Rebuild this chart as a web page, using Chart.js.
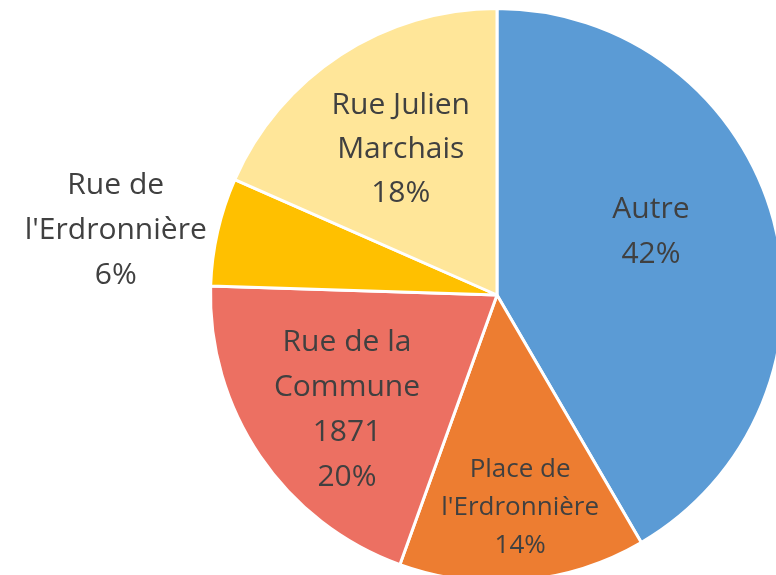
<!DOCTYPE html>
<html>
<head>
<meta charset="utf-8">
<script src="https://cdn.jsdelivr.net/npm/chart.js@4"></script>
<style>
  html, body { margin: 0; padding: 0; overflow: hidden; background: #fff; width: 776px; height: 575px; }
  #pie { position: absolute; left: 0; top: 0; }
</style>
</head>
<body>
<canvas id="pie" width="785" height="583"></canvas>
<script>
var categories = [['Autre'], ['Place de', "l'Erdronnière"], ['Rue de la', 'Commune', '1871'], ['Rue de', "l'Erdronnière"], ['Rue Julien', 'Marchais']];
var shares = [41.6, 13.9, 20.0, 6.1, 18.4];
var colours = ['#5B9BD5', '#ED7D31', '#EC7062', '#FFC000', '#FFE699'];

// label placement: nudge from mid-angle (deg) and fraction of radius
var labelNudge = [-7, -1, -3.3, -3.1, -0.3];
var labelDist = [0.58, 0.745, 0.66, 1.35, 0.61];
var labelSize = [30, 26, 30, 30, 30];
var labelLead = [45, 38, 45, 45, 44];

var sliceLabels = {
    id: 'sliceLabels',
    afterDatasetsDraw: function (chart) {
        var ctx = chart.ctx;
        var arcs = chart.getDatasetMeta(0).data;
        ctx.save();
        ctx.fillStyle = '#404040';
        ctx.textAlign = 'center';
        ctx.textBaseline = 'middle';
        arcs.forEach(function (arc, i) {
            var mid = (arc.startAngle + arc.endAngle) / 2 + labelNudge[i] * Math.PI / 180;
            var r = arc.outerRadius * labelDist[i];
            var x = arc.x + Math.cos(mid) * r;
            var y = arc.y + Math.sin(mid) * r;
            var lines = categories[i].concat([Math.round(shares[i]) + '%']);
            ctx.font = labelSize[i] + 'px "Open Sans", sans-serif';
            var top = y - (lines.length - 1) * labelLead[i] / 2;
            lines.forEach(function (t, k) {
                ctx.fillText(t, x, top + k * labelLead[i]);
            });
        });
        ctx.restore();
    }
};

new Chart(document.getElementById('pie'), {
    type: 'pie',
    data: {
        labels: categories.map(function (c) { return c.join(' '); }),
        datasets: [{
            data: shares,
            backgroundColor: colours,
            borderColor: '#ffffff',
            borderWidth: 3
        }]
    },
    options: {
        responsive: false,
        animation: false,
        layout: { padding: { left: 209, top: 7, right: 0, bottom: 0 } },
        plugins: {
            legend: { display: false },
            tooltip: { enabled: false }
        }
    },
    plugins: [sliceLabels]
});
</script>
</body>
</html>
